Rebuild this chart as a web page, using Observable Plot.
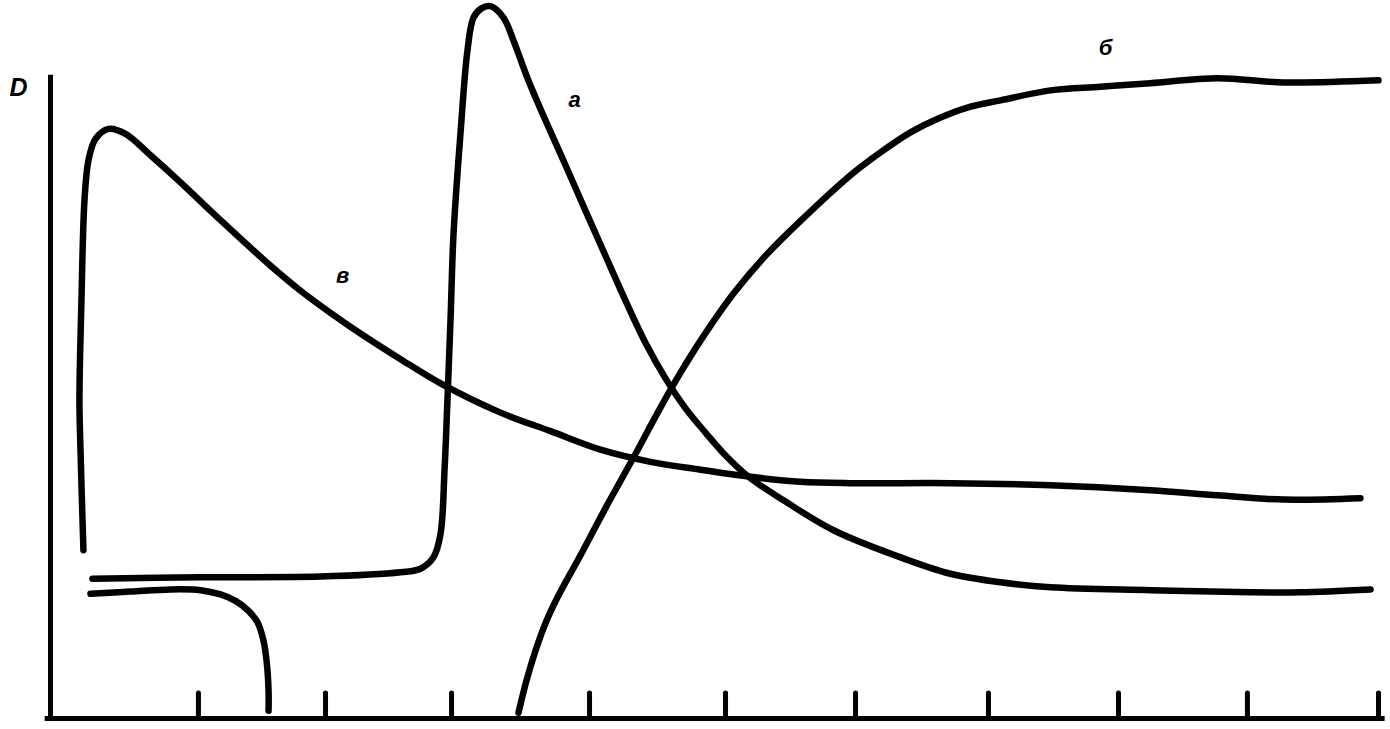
<!DOCTYPE html>
<html>
<head>
<meta charset="utf-8">
<script src="https://cdn.jsdelivr.net/npm/d3@7"></script>
<script src="https://cdn.jsdelivr.net/npm/@observablehq/plot@0.6"></script>
<style>
  html, body { margin: 0; padding: 0; background: #fff; }
  #chart svg { display: block; }
</style>
</head>
<body>
<div id="chart"></div>
<script>
// Curve "а": [time, D]
const curveA = [
  [0.316,19.6],[1.130,19.8],[2.033,19.9],[2.636,20.5],[2.786,21.0],[2.884,22.6],
  [2.937,25.9],[2.967,34.8],[2.989,44.6],[3.012,55.8],[3.035,68.0],[3.087,82.0],
  [3.140,93.7],[3.185,98.3],[3.245,99.6],[3.313,99.9],[3.411,98.3],[3.486,95.1],
  [3.592,89.8],[3.727,83.9],[3.878,77.6],[4.029,71.2],[4.179,64.9],[4.330,58.6],
  [4.480,52.7],[4.631,47.7],[4.782,43.5],[4.932,40.1],[5.083,36.9],[5.271,33.7],
  [5.520,30.6],[5.896,26.4],[6.401,22.6],[6.777,20.3],[7.154,19.1],[7.530,18.4],
  [8.283,18.0],[9.036,17.7],[9.413,17.7],[9.940,18.1]
];
// Curve "б"
const curveB = [
  [3.524,0.8],[3.584,5.3],[3.652,9.5],[3.735,13.7],[3.818,17.0],[3.991,22.9],
  [4.179,29.5],[4.390,36.6],[4.593,43.6],[4.744,48.5],[4.895,53.0],[5.143,59.6],
  [5.399,65.2],[5.648,69.8],[6.024,76.2],[6.250,79.4],[6.476,82.2],[6.702,84.3],
  [6.928,85.8],[7.154,86.7],[7.530,88.1],[7.907,88.6],[8.283,89.1],[8.788,89.8],
  [9.285,89.2],[10.0,89.5]
];
// Curve "в"
const curveV = [
  [0.248,23.6],[0.226,37.6],[0.218,44.6],[0.233,58.6],[0.256,72.7],[0.286,78.3],
  [0.339,81.3],[0.437,82.7],[0.565,82.0],[0.753,79.0],[0.979,75.2],[1.205,71.2],
  [1.431,67.3],[1.657,63.5],[1.883,60.0],[2.108,56.9],[2.334,54.0],[2.636,50.4],
  [2.937,47.0],[3.389,42.9],[3.765,40.3],[4.142,37.7],[4.518,36.0],[4.895,34.9],
  [5.271,33.9],[5.648,33.2],[6.024,33.0],[6.777,33.0],[7.530,32.7],[8.283,32.0],
  [8.788,31.3],[9.285,30.7],[9.864,30.9]
];
// Unlabeled short curve
const curveG = [
  [0.301,17.5],[0.602,17.8],[0.904,18.1],[1.130,18.0],[1.280,17.4],[1.393,16.5],
  [1.491,15.1],[1.559,13.5],[1.604,10.9],[1.627,8.1],[1.642,3.9],[1.642,1.1]
];
// x-axis tick positions (unlabelled)
const xTicks = [1.114, 2.071, 3.020, 4.059, 5.083, 6.062, 7.063, 8.042, 9.013, 10.0];
const tickLength = 3.5;
const yAxisTop = 90.2;
const xAxisExtent = [-0.04, 10.05];
// Text labels
const labelText = ["D", "а", "б", "в"];
const labelX = [-0.241, 3.946, 7.944, 2.199];
const labelY = [88.4, 86.7, 94.0, 62.0];
const labelSize = [25, 22, 22, 22];

const labels = labelText.map((t, i) => ({t, x: labelX[i], y: labelY[i], s: labelSize[i]}));
const toObj = arr => arr.map(([x, y]) => ({x, y}));
const lineOpts = {x: "x", y: "y", stroke: "#000", strokeWidth: 6.5, curve: "catmull-rom",
  strokeLinecap: "round", strokeLinejoin: "round"};

const chart = Plot.plot({
  width: 1390,
  height: 729,
  marginLeft: 50,
  marginRight: 12,
  marginTop: 5,
  marginBottom: 11,
  x: {domain: [0, 10], axis: null},
  y: {domain: [0, 100], axis: null},
  style: {background: "#fff", overflow: "visible"},
  marks: [
    Plot.ruleX([0], {y1: 0, y2: yAxisTop, stroke: "#000", strokeWidth: 5}),
    Plot.ruleY([0], {x1: xAxisExtent[0], x2: xAxisExtent[1], stroke: "#000", strokeWidth: 5}),
    Plot.ruleX(xTicks, {y1: 0, y2: tickLength, stroke: "#000", strokeWidth: 5, strokeLinecap: "round"}),
    Plot.line(toObj(curveG), lineOpts),
    Plot.line(toObj(curveV), lineOpts),
    Plot.line(toObj(curveA), lineOpts),
    Plot.line(toObj(curveB), lineOpts),
    Plot.text(labels, {x: "x", y: "y", text: "t", fontSize: d => d.s,
      fontWeight: "bold", fontStyle: "italic", fontFamily: "Liberation Sans, Arial, sans-serif",
      fill: "#000", textAnchor: "middle", lineAnchor: "middle"})
  ]
});
document.getElementById("chart").appendChild(chart);
</script>
</body>
</html>
